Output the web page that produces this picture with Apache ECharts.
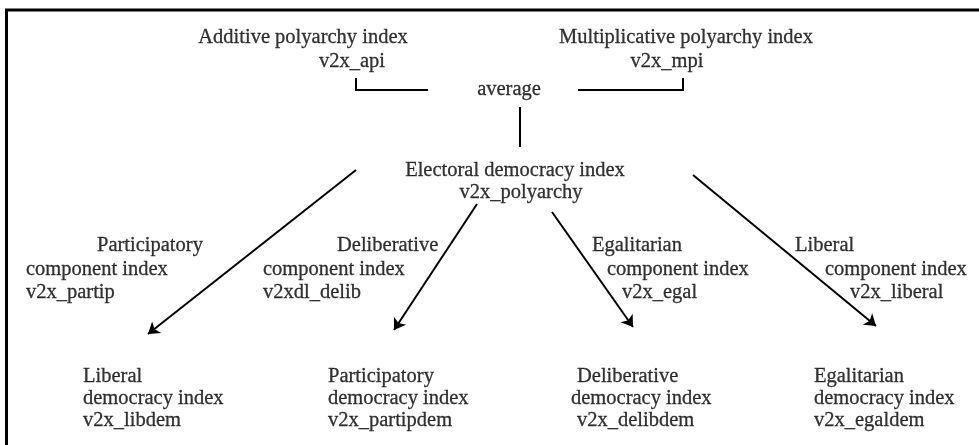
<!DOCTYPE html>
<html><head><meta charset="utf-8">
<script src="https://cdn.jsdelivr.net/npm/echarts@6/dist/echarts.min.js"></script>
<style>html,body{margin:0;padding:0;background:#fff}#c{width:979px;height:445px}</style>
</head><body><div id="c"></div>
<script>
// centred headings: text, anchor x, anchor y
const centerTexts = ["Additive polyarchy index","v2x_api","average","Multiplicative polyarchy index","v2x_mpi","Electoral democracy index","v2x_polyarchy"];
const centerX = [303,352,509,686,667,515,521];
const centerY = [38,62,90,38,62,171,193];
// component indices (left-aligned lines)
const compTexts = ["Participatory","component index","v2x_partip",
                   "Deliberative","component index","v2xdl_delib",
                   "Egalitarian","component index","v2x_egal",
                   "Liberal","component index","v2x_liberal"];
const compX = [97,26,26, 337,263,263, 592,607,622, 795,825,850];
const compY = [246,270,293, 246,270,293, 246,270,293, 246,270,293];
// resulting democracy indices
const demTexts = ["Liberal","democracy index","v2x_libdem",
                  "Participatory","democracy index","v2x_partipdem",
                  "Deliberative","democracy index","v2x_delibdem",
                  "Egalitarian","democracy index","v2x_egaldem"];
const demX = [83,83,83, 328,328,328, 577,571,577, 814,814,814];
const demY = [377,399,421, 377,399,421, 377,399,421, 377,399,421];
// connectors
const bracketPaths = [[[356,78],[356,90],[428,90]], [[578,90],[683,90],[683,78]], [[520,107],[520,147]]];
const arrowPaths = [[[356,170],[148,334]], [[477,204],[394,330]], [[552,212],[633,327]], [[693,175],[876,326]]];

const font = {fontFamily:'"Liberation Serif", "Times New Roman", serif', fontSize:20.5, color:'#000',
              textBorderColor:'#000', textBorderWidth:0.3};
function pts(t,x,y){return t.map((s,i)=>({name:s,value:[x[i],y[i]]}));}

const chart = echarts.init(document.getElementById('c'));
chart.setOption({
  animation:false,
  grid:{left:0,right:0,top:0,bottom:0},
  xAxis:{type:'value',min:0,max:979,show:false},
  yAxis:{type:'value',min:0,max:445,inverse:true,show:false},
  graphic:[{type:'polyline',shape:{points:[[6.5,450],[6.5,10],[985,10]]},style:{fill:'none',stroke:'#000',lineWidth:3}}],
  series:[
    {type:'scatter',symbolSize:0,data:pts(centerTexts,centerX,centerY),
     label:Object.assign({show:true,position:'inside',formatter:'{b}'},font)},
    {type:'scatter',symbolSize:0,data:pts(compTexts,compX,compY),
     label:Object.assign({show:true,position:'right',distance:0,formatter:'{b}'},font)},
    {type:'scatter',symbolSize:0,data:pts(demTexts,demX,demY),
     label:Object.assign({show:true,position:'right',distance:0,formatter:'{b}'},font)},
    {type:'lines',coordinateSystem:'cartesian2d',polyline:true,symbol:'none',
     lineStyle:{color:'#000',width:2,opacity:1},data:bracketPaths.map(c=>({coords:c}))},
    {type:'lines',coordinateSystem:'cartesian2d',symbol:['none','arrow'],symbolSize:11,
     lineStyle:{color:'#000',width:2,opacity:1},data:arrowPaths.map(c=>({coords:c}))}
  ]
});
</script></body></html>
